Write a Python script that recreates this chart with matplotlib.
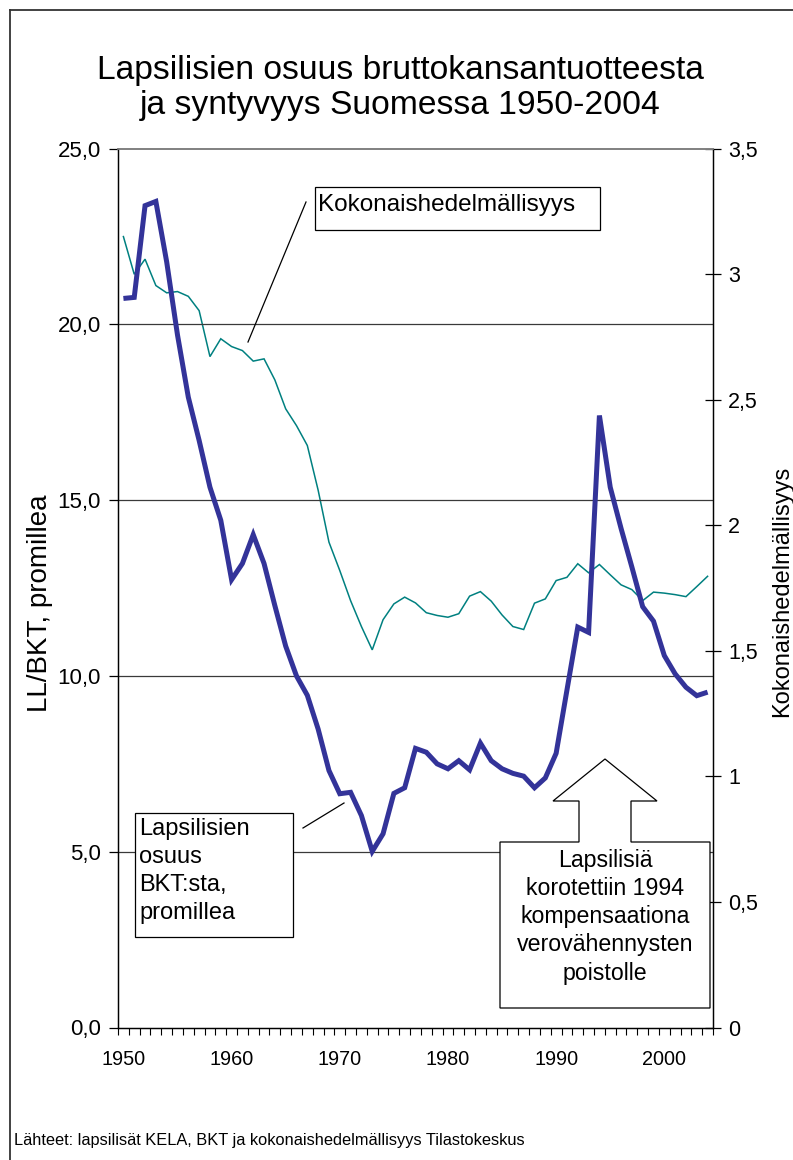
import matplotlib
matplotlib.use("Agg")
import matplotlib.pyplot as plt
from matplotlib.patches import Rectangle, Polygon
from matplotlib.lines import Line2D
import numpy as np

plt.rcParams['font.family'] = ['Liberation Sans', 'DejaVu Sans']

# ---------------- data ----------------
years = list(range(1950, 2005))

# Lapsilisien osuus BKT:sta, promillea (left axis)
ll_bkt = [20.74, 20.77, 23.38, 23.50, 21.78, 19.70, 17.93, 16.70, 15.37, 14.43,
          12.74, 13.20, 14.02, 13.20, 12.00, 10.85, 10.00, 9.45, 8.49, 7.31,
          6.65, 6.69, 6.03, 5.01, 5.51, 6.66, 6.82, 7.94, 7.83, 7.50,
          7.36, 7.59, 7.33, 8.09, 7.59, 7.36, 7.23, 7.15, 6.82, 7.10,
          7.80, 9.60, 11.39, 11.24, 17.41, 15.37, 14.20, 13.10, 11.97, 11.56,
          10.58, 10.06, 9.68, 9.44, 9.54]

# Kokonaishedelmällisyys (right axis)
tfr = [3.15, 3.00, 3.06, 2.955, 2.926, 2.931, 2.912, 2.855, 2.672, 2.743,
       2.712, 2.696, 2.654, 2.663, 2.579, 2.464, 2.397, 2.318, 2.14, 1.933,
       1.82, 1.70, 1.597, 1.504, 1.624, 1.687, 1.714, 1.691, 1.652, 1.641,
       1.634, 1.648, 1.718, 1.736, 1.698, 1.643, 1.597, 1.585, 1.69, 1.707,
       1.78, 1.793, 1.847, 1.811, 1.844, 1.803, 1.763, 1.744, 1.70, 1.734,
       1.73, 1.724, 1.716, 1.756, 1.797]

left_ticks = [0, 5, 10, 15, 20, 25]
left_ticklabels = ["0,0", "5,0", "10,0", "15,0", "20,0", "25,0"]
right_ticks = [0, 0.5, 1, 1.5, 2, 2.5, 3, 3.5]
right_ticklabels = ["0", "0,5", "1", "1,5", "2", "2,5", "3", "3,5"]
x_ticks = [1950, 1960, 1970, 1980, 1990, 2000]

title_lines = ["Lapsilisien osuus bruttokansantuotteesta",
               "ja syntyvyys Suomessa 1950-2004"]
left_label = "LL/BKT, promillea"
right_label = "Kokonaishedelmällisyys"
box1_lines = ["Lapsilisien", "osuus", "BKT:sta,", "promillea"]
box2_lines = ["Lapsilisiä", "korotettiin 1994", "kompensaationa",
              "verovähennysten", "poistolle"]
tfr_box_text = "Kokonaishedelmällisyys"
source_text = "Lähteet: lapsilisät KELA, BKT ja kokonaishedelmällisyys Tilastokeskus"

# ---------------- figure ----------------
W, H = 793, 1160
fig = plt.figure(figsize=(W / 100, H / 100), dpi=100)
fig.patch.set_facecolor("white")

L, R, T, B = 118, 713, 148.7, 1027.5
ax = fig.add_axes([L / W, (H - B) / H, (R - L) / W, (B - T) / H])
ax2 = ax.twinx()

# teal line (right axis)
ax2.plot(years, tfr, color="#008080", lw=1.1, solid_joinstyle="miter")
ax2.set_ylim(0, 3.5)
ax2.set_yticks(right_ticks)
ax2.set_yticklabels(right_ticklabels, fontsize=15.5)
ax2.tick_params(axis="y", direction="inout", length=12, width=0.9, pad=5)

# blue line (left axis) on top
ax.set_zorder(ax2.get_zorder() + 1)
ax.patch.set_visible(False)
ax.plot(years, ll_bkt, color="#333399", lw=3.6, solid_joinstyle="miter",
        solid_capstyle="butt")
ax.set_ylim(0, 25)
ax.set_xlim(1949.5, 2004.5)
ax.set_yticks(left_ticks)
ax.set_yticklabels(left_ticklabels, fontsize=16)
ax.tick_params(axis="y", direction="out", length=6.5, width=0.9, pad=6)
for yv in left_ticks[1:-1]:
    ax.axhline(yv, color="#3a3a3a", lw=0.9, zorder=0.5)

ax.set_xticks(x_ticks)
ax.set_xticklabels([str(x) for x in x_ticks], fontsize=14.3)
ax.set_xticks(np.arange(1949.5, 2005, 1.0), minor=True)
ax.tick_params(axis="x", which="major", length=0, pad=16)
ax.tick_params(axis="x", which="minor", direction="out", length=5, width=0.8)

for a in (ax, ax2):
    a.spines["top"].set_color("#808080")
    a.spines["top"].set_linewidth(1.2)
    for s in ("left", "right", "bottom"):
        a.spines[s].set_color("black")
        a.spines[s].set_linewidth(0.9)

# ---------------- overlay in pixel coordinates ----------------
ov = fig.add_axes([0, 0, 1, 1], zorder=20)
ov.set_xlim(0, W)
ov.set_ylim(H, 0)
ov.axis("off")
ov.patch.set_visible(False)

# outer frame
ov.add_line(Line2D([9.5, W], [9.5, 9.5], color="#333333", lw=1.3))
ov.add_line(Line2D([9.5, 9.5], [9.5, H], color="#333333", lw=1.3))

# title
ov.text(400, 79, title_lines[0], fontsize=24.2, ha="center", va="baseline")
ov.text(400, 114, title_lines[1], fontsize=24.2, ha="center", va="baseline")

# axis labels
ov.text(40, 603, left_label, fontsize=20, rotation=90, ha="center", va="center")
ov.text(782, 591, right_label, fontsize=17, rotation=90, ha="center", va="center")

# source
ov.text(14, 1140, source_text, fontsize=11.8, ha="left", va="center")

# Kokonaishedelmällisyys box + pointer
ov.add_patch(Rectangle((315, 186.7), 285, 43.3, facecolor="white",
                       edgecolor="black", lw=0.9))
ov.text(318, 211, tfr_box_text, fontsize=17.5, ha="left", va="baseline")
ov.add_line(Line2D([306, 248], [202, 342], color="black", lw=0.9))

# Lapsilisien box + pointer
ov.add_patch(Rectangle((135, 813.3), 158.3, 124, facecolor="white",
                       edgecolor="black", lw=0.9))
for i, t in enumerate(box1_lines):
    ov.text(139, 835 + i * 28, t, fontsize=17, ha="left", va="baseline")
ov.add_line(Line2D([303, 344], [828, 803], color="black", lw=0.9))

# arrow callout
poly = [(500, 1008), (500, 842), (579, 842), (579, 801), (553, 801),
        (605, 759), (657, 801), (631, 801), (631, 842), (710, 842),
        (710, 1008)]
ov.add_patch(Polygon(poly, closed=True, facecolor="white", edgecolor="black",
                     lw=0.9))
for i, t in enumerate(box2_lines):
    ov.text(605, 866.5 + i * 28.3, t, fontsize=16.7, ha="center", va="baseline")

fig.savefig("out.png", dpi=100, facecolor="white")
